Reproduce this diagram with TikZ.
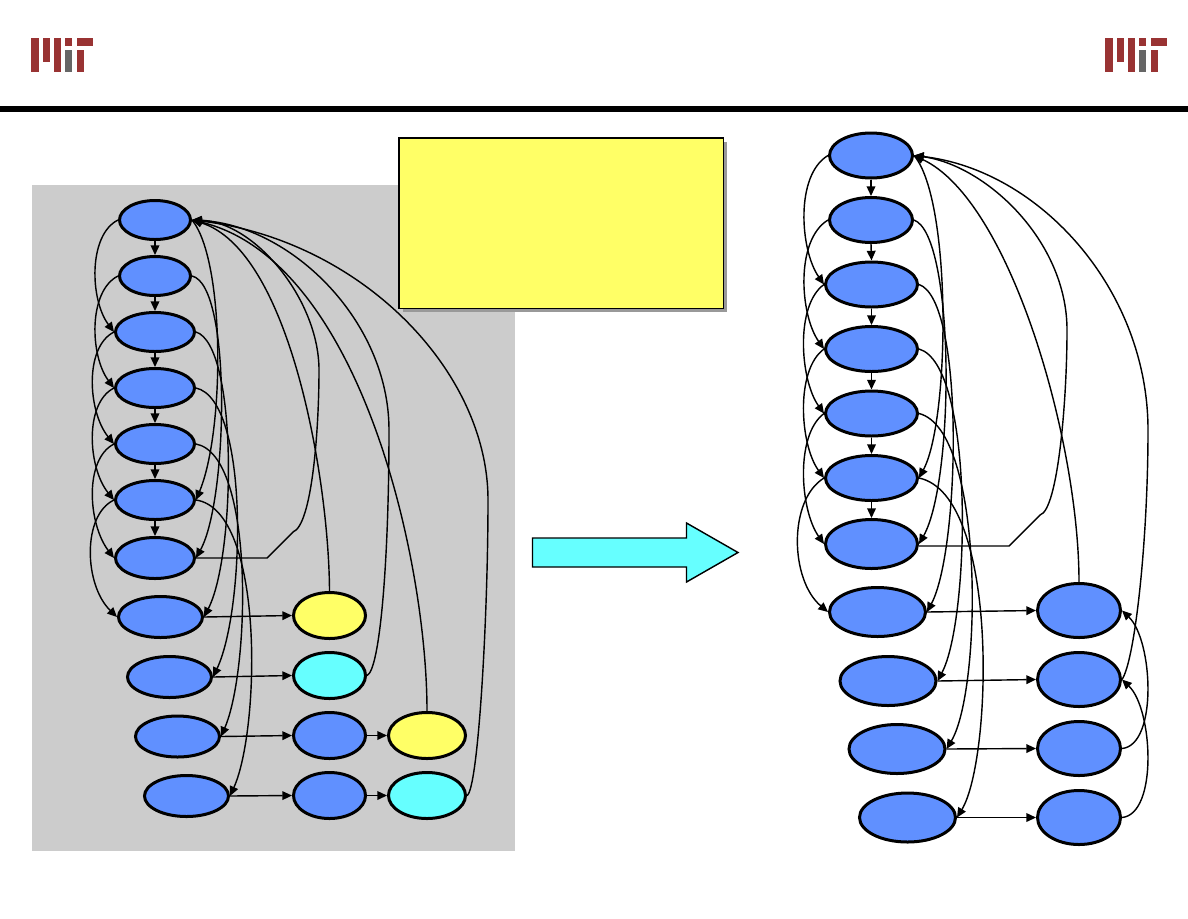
\documentclass[tikz,border=0pt]{standalone}
\usepackage[HTML]{xcolor}
\usepackage{tikz}
\usetikzlibrary{positioning, arrows, arrows.meta, shapes.geometric}

\definecolor{nodeblue}{HTML}{6090FF}
\definecolor{nodeyellow}{HTML}{FFFF66}
\definecolor{nodecyan}{HTML}{66FFFF}
\definecolor{panelgray}{HTML}{CCCCCC}
\definecolor{logored}{HTML}{993333}
\definecolor{logogray}{HTML}{666666}

\tikzset{
  blob/.style={ellipse, draw=black, line width=1.8pt, fill=nodeblue, inner sep=0pt},
  leftA/.style={blob, minimum width=42.6pt, minimum height=23.4pt},
  leftB/.style={blob, minimum width=47.4pt, minimum height=23.4pt},
  leftC/.style={blob, minimum width=50.4pt, minimum height=24.6pt},
  midA/.style={blob, minimum width=43.2pt, minimum height=27.6pt},
  midB/.style={blob, minimum width=46.2pt, minimum height=27.6pt},
  rightA/.style={blob, minimum width=49.8pt, minimum height=27pt},
  rightB/.style={blob, minimum width=55.2pt, minimum height=27pt},
  rightC/.style={blob, minimum width=57.6pt, minimum height=29.4pt},
  rightD/.style={blob, minimum width=49.8pt, minimum height=32.4pt},
  wire/.style={line width=0.85pt},
  link/.style={wire, -{Triangle[length=5.8pt,width=5.2pt]}}
}

\begin{document}
\begin{tikzpicture}[x=0.6pt,y=-0.6pt]
\useasboundingbox (0,0) rectangle (1188,918);

% Header rule and logos
\fill[black] (0,106) rectangle (1188,112);
\foreach \logox in {0,1074} {
  \begin{scope}[xshift=\logox*0.6pt]
    \fill[logored] (30.5,38) rectangle (38.5,71.5);
    \fill[logored] (42.5,38) rectangle (50,62);
    \fill[logored] (53.5,38) rectangle (61,71.5);
    \fill[logored] (64.5,38) rectangle (72,45.5);
    \fill[logogray] (64.5,50) rectangle (72,71.5);
    \fill[logored] (76.5,38) rectangle (93,45.5);
    \fill[logored] (76.5,50) rectangle (83.5,71.5);
  \end{scope}
}

% Gray panel
\fill[panelgray] (32,185) rectangle (515,851);

% Left graph
\node[leftA] (L1) at (155,220) {};
\node[leftA] (L2) at (155,276) {};
\node[leftB] (L3) at (155,332) {};
\node[leftB] (L4) at (155,388) {};
\node[leftB] (L5) at (155,444) {};
\node[leftB] (L6) at (155,500) {};
\node[leftB, minimum height=24.6pt] (L7) at (155,558) {};
\node[leftC] (L8) at (160.5,617) {};
\node[leftC] (L9) at (169.5,677) {};
\node[leftC] (L10) at (177.5,736.5) {};
\node[leftC] (L11) at (186.5,796) {};
\node[midA, fill=nodeyellow] (Y1) at (329.5,615.5) {};
\node[midA, fill=nodecyan] (C1) at (329.5,675.5) {};
\node[midA] (B1) at (329.5,735.5) {};
\node[midA] (B2) at (329.5,795.5) {};
\node[midB, fill=nodeyellow] (Y2) at (427,735.5) {};
\node[midB, fill=nodecyan] (C2) at (427,795.5) {};

% Straight links
\foreach \a/\b in {L1/L2,L2/L3,L3/L4,L4/L5,L5/L6,L6/L7}
  \draw[link] (\a.south) -- (\b.north);
\foreach \a/\b in {L8/Y1,L9/C1,L10/B1,L11/B2,B1/Y2,B2/C2}
  \draw[link] (\a.east) -- (\b.west);

% Skip links on the west side
\draw[link] (L1.west) .. controls (88,235) and (90,300) .. (L3.west);
\draw[link] (L2.west) .. controls (88,291) and (90,356) .. (L4.west);
\draw[link] (L3.west) .. controls (84,347) and (88,412) .. (L5.west);
\draw[link] (L4.west) .. controls (84,403) and (88,468) .. (L6.west);
\draw[link] (L5.west) .. controls (84,459) and (88,524) .. (L7.west);
\draw[link] (L6.west) .. controls (82,515) and (84,585) .. (L8.west);

% Skip links on the east side
\draw[link] (L1.east) .. controls (225,260) and (225,430) .. (L6.east);
\draw[link] (L2.east) .. controls (232,285) and (228,500) .. (L7.east);
\draw[link] (L3.east) .. controls (238,345) and (236,555) .. (L8.east);
\draw[link] (L4.east) .. controls (250,400) and (245,610) .. (L9.east);
\draw[link] (L5.east) .. controls (255,455) and (250,670) .. (L10.east);
\draw[link] (L6.east) .. controls (265,510) and (260,730) .. (L11.east);

% Back links to the first node
\coordinate (kneeL) at (267,558);
\coordinate (bendL) at (293,532);
\draw[link] (L7.east) -- (kneeL) -- (bendL) .. controls (312,525) and (319,430) .. (319,370) .. controls (319,300) and (255,222) .. (L1.east);
\draw[link] (Y1.north) .. controls (329,480) and (290,250) .. (L1.east);
\draw[link] (C1.east) .. controls (380,670) and (389,560) .. (389,430) .. controls (389,320) and (290,225) .. (L1.east);
\draw[link] (Y2.north) .. controls (427,560) and (360,260) .. (L1.east);
\draw[link] (C2.east) .. controls (478,790) and (488,620) .. (488,500) .. controls (488,370) and (360,240) .. (L1.east);

% Right graph
\node[rightA] (R1) at (871,155.5) {};
\node[rightA] (R2) at (871,220) {};
\node[rightB] (R3) at (871.5,284.5) {};
\node[rightB] (R4) at (871.5,349) {};
\node[rightB] (R5) at (871.5,413.5) {};
\node[rightB] (R6) at (871.5,478) {};
\node[rightB, minimum height=29.4pt] (R7) at (871.5,544) {};
\node[rightC] (R8) at (877.5,612) {};
\node[rightC] (R9) at (888,681) {};
\node[rightC] (R10) at (897,749) {};
\node[rightC] (R11) at (907.5,817.5) {};
\node[rightD] (S1) at (1079,610.5) {};
\node[rightD] (S2) at (1079,679.5) {};
\node[rightD] (S3) at (1079,748.5) {};
\node[rightD] (S4) at (1079,817.5) {};

\foreach \a/\b in {R1/R2,R2/R3,R3/R4,R4/R5,R5/R6,R6/R7}
  \draw[link] (\a.south) -- (\b.north);
\foreach \a/\b in {R8/S1,R9/S2,R10/S3,R11/S4}
  \draw[link] (\a.east) -- (\b.west);

\draw[link] (R1.west) .. controls (795,175) and (800,250) .. (R3.west);
\draw[link] (R2.west) .. controls (795,240) and (800,315) .. (R4.west);
\draw[link] (R3.west) .. controls (795,305) and (800,380) .. (R5.west);
\draw[link] (R4.west) .. controls (795,370) and (800,445) .. (R6.west);
\draw[link] (R5.west) .. controls (795,435) and (800,510) .. (R7.west);
\draw[link] (R6.west) .. controls (788,500) and (790,580) .. (R8.west);

\draw[link] (R1.east) .. controls (952,200) and (950,420) .. (R6.east);
\draw[link] (R2.east) .. controls (955,235) and (955,480) .. (R7.east);
\draw[link] (R3.east) .. controls (965,300) and (960,550) .. (R8.east);
\draw[link] (R4.east) .. controls (975,365) and (970,620) .. (R9.east);
\draw[link] (R5.east) .. controls (985,430) and (982,690) .. (R10.east);
\draw[link] (R6.east) .. controls (1000,495) and (992,760) .. (R11.east);

\coordinate (kneeR) at (1009,546);
\coordinate (bendR) at (1040,515);
\draw[link] ([yshift=-1.2pt]R7.east) -- (kneeR) -- (bendR) .. controls (1058,510) and (1067,400) .. (1067,330) .. controls (1067,240) and (985,165) .. (R1.east);
\draw[link] (S1.north) .. controls (1079,440) and (1010,200) .. (R1.east);
\draw[link] (S2.east) .. controls (1135,660) and (1148,540) .. (1148,430) .. controls (1148,290) and (1040,170) .. (R1.east);
\draw[link] (S3.east) .. controls (1158,745) and (1153,640) .. (S1.east);
\draw[link] (S4.east) .. controls (1158,814) and (1153,709) .. (S2.east);

% Note box with its shadow
\fill[black!40] (403,142) rectangle (727,312);
\node[draw=black, line width=0.85pt, fill=nodeyellow, inner sep=0pt, minimum width=194.6pt, minimum height=102.2pt] (note) at (561.3,223.2) {};

% Wide arrow between the two graphs
\draw[wire, fill=nodecyan] (532.5,538) -- (686.5,538) -- (686.5,523) -- (738,552.5) -- (686.5,582) -- (686.5,567) -- (532.5,567) -- cycle;
\end{tikzpicture}
\end{document}
